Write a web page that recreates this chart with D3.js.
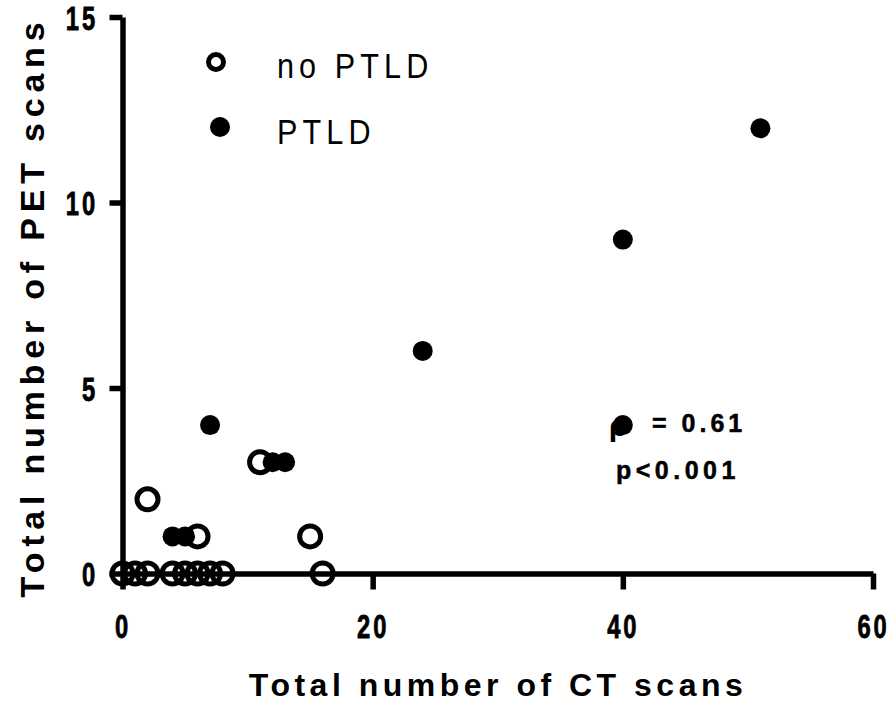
<!DOCTYPE html>
<html>
<head>
<meta charset="utf-8">
<script src="https://cdn.jsdelivr.net/npm/d3@7"></script>
<style>
  body { margin: 0; background: #fff; }
  text { font-family: "Liberation Sans", Arial, sans-serif; fill: #000; }
</style>
</head>
<body>
<svg id="chart" width="892" height="702"></svg>
<script>
// no PTLD patients (open circles)
var noPtldCT  = [0, 1, 2, 4, 5, 6, 7, 8, 16, 6, 15, 2, 11];
var noPtldPET = [0, 0, 0, 0, 0, 0, 0, 0, 0, 1, 1, 2, 3];

// PTLD patients (filled circles)
var ptldCT  = [4, 5, 12, 13, 7, 40, 24, 40, 51];
var ptldPET = [1, 1, 3, 3, 4, 4, 6, 9, 12];

var xTicks = [0, 20, 40, 60];
var yTicks = [0, 5, 10, 15];

var svg = d3.select('#chart');

var x = d3.scaleLinear().domain([0, 60]).range([122.5, 873]);
var y = d3.scaleLinear().domain([0, 15]).range([573.5, 17]);

// merge both groups, sorted by x so later points sit on top
var points = [];
for (var i = 0; i < noPtldCT.length; i++) {
    points.push({ct: noPtldCT[i], pet: noPtldPET[i], ptld: false});
}
for (var j = 0; j < ptldCT.length; j++) {
    points.push({ct: ptldCT[j], pet: ptldPET[j], ptld: true});
}
points.sort(function(a, b) { return a.ct - b.ct; });

// X axis
var xAxis = svg.append('g')
    .attr('transform', 'translate(0,' + y(0) + ')')
    .call(d3.axisBottom(x).tickValues(xTicks).tickSize(16).tickSizeOuter(0));
xAxis.selectAll('path, line').attr('stroke', '#000').attr('stroke-width', 5.5);
xAxis.selectAll('text')
    .attr('y', 65).attr('dy', 0)
    .attr('transform', 'scale(0.72,1)')
    .attr('stroke', '#000').attr('stroke-width', 0.8)
    .style('font-size', '33px').style('font-weight', 'bold')
    .style('letter-spacing', '4px');

// Y axis
var yAxis = svg.append('g')
    .attr('transform', 'translate(' + x(0) + ',0)')
    .call(d3.axisLeft(y).tickValues(yTicks).tickSize(13).tickSizeOuter(0));
yAxis.selectAll('path, line').attr('stroke', '#000').attr('stroke-width', 5.5);
yAxis.selectAll('text')
    .attr('x', -34).attr('y', 12).attr('dy', 0)
    .attr('transform', 'scale(0.72,1)')
    .attr('stroke', '#000').attr('stroke-width', 0.8)
    .style('font-size', '33px').style('font-weight', 'bold')
    .style('letter-spacing', '4px');

// Points
svg.append('g').selectAll('circle')
    .data(points)
    .enter()
    .append('circle')
        .attr('cx', function(d) { return x(d.ct); })
        .attr('cy', function(d) { return y(d.pet); })
        .attr('r', function(d) { return d.ptld ? 10 : 10.5; })
        .attr('fill', function(d) { return d.ptld ? '#000' : 'none'; })
        .attr('stroke', function(d) { return d.ptld ? 'none' : '#000'; })
        .attr('stroke-width', 5);

// Legend
svg.append('circle').attr('cx', 216).attr('cy', 62).attr('r', 7.5)
    .attr('fill', 'none').attr('stroke', '#000').attr('stroke-width', 5);
svg.append('circle').attr('cx', 220).attr('cy', 127).attr('r', 10).attr('fill', '#000');
svg.append('text').text('no PTLD')
    .attr('transform', 'translate(277,78) scale(0.85,1)')
    .style('font-size', '36px').style('letter-spacing', '6px');
svg.append('text').text('PTLD')
    .attr('transform', 'translate(277,144) scale(0.85,1)')
    .style('font-size', '36px').style('letter-spacing', '6px');

// Correlation note
svg.append('text').text('ρ')
    .attr('x', 609).attr('y', 436)
    .style('font-size', '30px').style('font-weight', 'bold');
svg.append('text').text('= 0.61')
    .attr('x', 652).attr('y', 432)
    .attr('stroke', '#000').attr('stroke-width', 0.5)
    .style('font-size', '25px').style('font-weight', 'bold')
    .style('letter-spacing', '4px');
svg.append('text').text('p<0.001')
    .attr('x', 616).attr('y', 479)
    .attr('stroke', '#000').attr('stroke-width', 0.5)
    .style('font-size', '25px').style('font-weight', 'bold')
    .style('letter-spacing', '4.5px');

// Axis titles
svg.append('text').text('Total number of CT scans')
    .attr('x', 498).attr('y', 696)
    .attr('text-anchor', 'middle')
    .style('font-size', '32px').style('font-weight', 'bold')
    .style('letter-spacing', '4.5px');
svg.append('text').text('Total number of PET scans')
    .attr('transform', 'translate(44,307) rotate(-90)')
    .attr('text-anchor', 'middle')
    .style('font-size', '34px').style('font-weight', 'bold')
    .style('letter-spacing', '5.8px');
</script>
</body>
</html>
